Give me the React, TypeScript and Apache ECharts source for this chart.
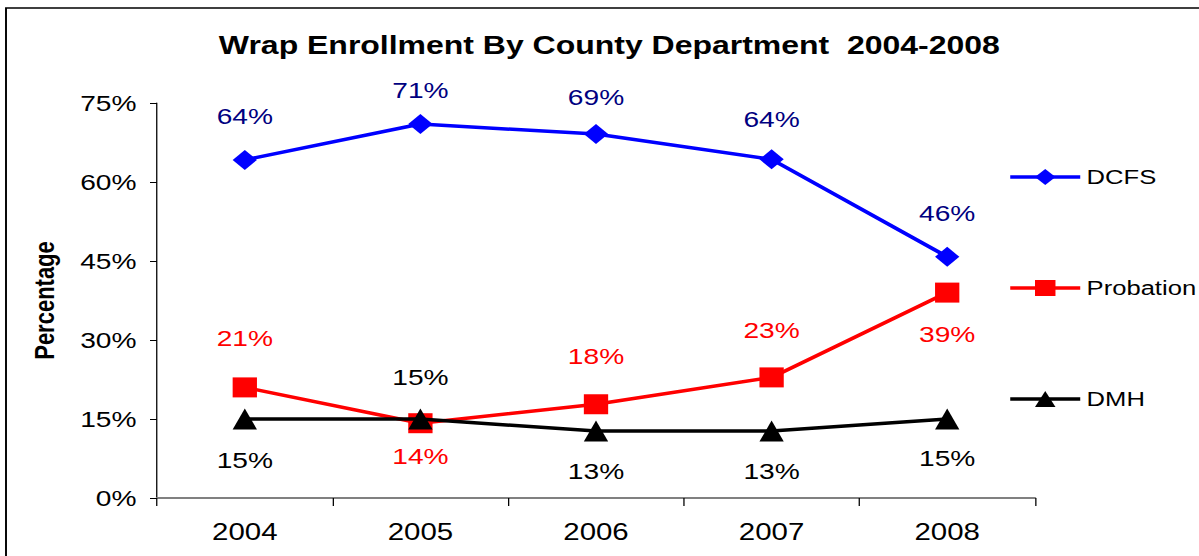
import React, { useEffect, useRef } from "react";
import * as echarts from "echarts";

const years = ["2004", "2005", "2006", "2007", "2008"];
const dcfs = [64.2, 71.0, 69.1, 64.3, 45.8];
const probation = [21.0, 14.2, 17.8, 22.9, 39.0];
const dmh = [15.0, 15.0, 12.7, 12.7, 15.0];

// label placement (style, not data)
const dcfsLabelPos = ["top", "top", "top", "top", "top"];
const dcfsLabelDist = [23, 13, 16, 19, 23];
const probationLabelPos = ["top", "bottom", "top", "top", "bottom"];
const probationLabelDist = [28, 12, 27, 26, 21];
const dmhLabelPos = ["bottom", "top", "bottom", "bottom", "bottom"];
const dmhLabelDist = [20, 20, 19, 19, 18];

const FONT = "Liberation Sans, Arial, sans-serif";
const fmt = (p: any) => Math.round(p.value) + "%";

// The reference is horizontally stretched; render narrower and scale in x.
const PAGE_W = 1199;
const INNER_W = 937;
const SX = PAGE_W / INNER_W;
const X = (v: number) => v / SX;

export default function App() {
  const ref = useRef<HTMLDivElement>(null);
  useEffect(() => {
    const chart = echarts.init(ref.current!, null, { renderer: "svg" });
    const mk = (vals: number[], pos: string[], dist: number[]) =>
      vals.map((v, i) => ({ value: v, label: { position: pos[i], distance: dist[i] } }));
    chart.setOption({
      animation: false,
      backgroundColor: "#fff",
      textStyle: { fontFamily: FONT },
      title: {
        text: "Wrap Enrollment By County Department  2004-2008",
        left: 166,
        top: 28,
        textStyle: { fontFamily: FONT, fontWeight: "bold", fontSize: 25, color: "#000" },
      },
      graphic: [
        {
          type: "rect",
          shape: { x: X(6), y: 8, width: 1300, height: 700 },
          style: { fill: "none", stroke: "#000", lineWidth: 1.5 },
          silent: true,
        },
      ],
      legend: {
        orient: "vertical",
        left: X(1008),
        top: 167,
        padding: 0,
        itemWidth: X(70),
        itemHeight: 20,
        itemGap: 91,
        lineStyle: { width: 3.5 },
        textStyle: { fontFamily: FONT, fontSize: 20, color: "#000" },
        data: ["DCFS", "Probation", "DMH"],
      },
      grid: { left: X(157), top: 103, right: X(PAGE_W - 1035), bottom: 58 },
      xAxis: {
        type: "category",
        data: years,
        boundaryGap: true,
        axisLine: { lineStyle: { color: "#808080", width: 2 } },
        axisTick: { show: true, interval: 0, length: 8, lineStyle: { color: "#000", width: 1 } },
        axisLabel: { fontFamily: FONT, fontSize: 23, color: "#000", margin: 23 },
      },
      yAxis: {
        type: "value",
        min: 0,
        max: 75,
        interval: 15,
        name: "Percentage",
        nameLocation: "middle",
        nameRotate: 90,
        nameGap: X(157) - X(45) - 10,
        nameTextStyle: { fontFamily: FONT, fontSize: 22, fontWeight: "bold", color: "#000" },
        axisLine: { show: true, lineStyle: { color: "#000", width: 1 } },
        axisTick: { show: true, length: X(7), lineStyle: { color: "#000" } },
        axisLabel: { formatter: "{value}%", fontFamily: FONT, fontSize: 22, color: "#000", margin: 16 },
        splitLine: { show: false },
      },
      series: [
        {
          name: "DCFS",
          type: "line",
          data: mk(dcfs, dcfsLabelPos, dcfsLabelDist),
          symbol: "diamond",
          symbolSize: [19, 20],
          itemStyle: { color: "#0000FF" },
          lineStyle: { color: "#0000FF", width: 3.5 },
          label: { show: true, formatter: fmt, fontFamily: FONT, fontSize: 22, color: "#000080" },
          z: 3,
        },
        {
          name: "Probation",
          type: "line",
          data: mk(probation, probationLabelPos, probationLabelDist),
          symbol: "rect",
          symbolSize: [19, 20],
          itemStyle: { color: "#FF0000" },
          lineStyle: { color: "#FF0000", width: 3.5 },
          label: { show: true, formatter: fmt, fontFamily: FONT, fontSize: 22, color: "#FF0000" },
          z: 2,
        },
        {
          name: "DMH",
          type: "line",
          data: mk(dmh, dmhLabelPos, dmhLabelDist),
          symbol: "triangle",
          symbolSize: [19, 21],
          itemStyle: { color: "#000000" },
          lineStyle: { color: "#000000", width: 3.5 },
          label: { show: true, formatter: fmt, fontFamily: FONT, fontSize: 22, color: "#000" },
          z: 4,
        },
      ],
    });
    return () => chart.dispose();
  }, []);
  return (
    <div
      ref={ref}
      style={{
        position: "fixed",
        left: 0,
        top: 0,
        width: INNER_W,
        height: 556,
        transform: `scaleX(${SX})`,
        transformOrigin: "0 0",
      }}
    />
  );
}
